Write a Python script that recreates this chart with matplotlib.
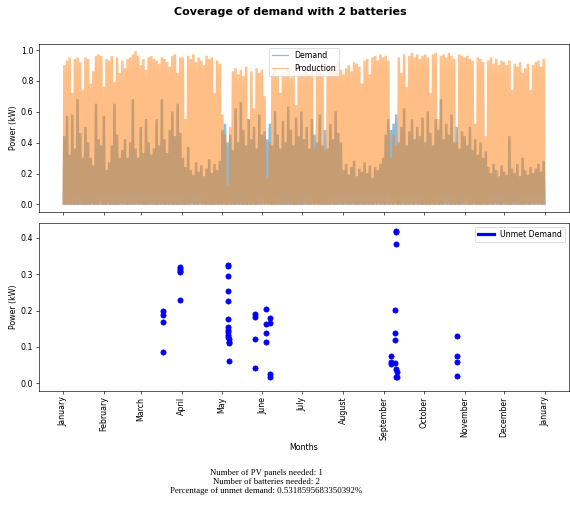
import numpy as np
import pandas as pd
import matplotlib
matplotlib.use("Agg")
from matplotlib import pyplot as plt
import matplotlib.dates as mdates
from matplotlib.lines import Line2D

# peak power of each 2-day block over the year (kW), one row per month
prod_peak = [
    0.90, 0.93, 0.95, 0.72, 0.94, 0.95, 0.92, 0.74, 0.95, 0.94, 0.78, 0.86, 0.96, 0.97, 0.96, 0.76,
    0.94, 0.93, 0.96, 0.79, 0.95, 0.85, 0.93, 0.88, 0.94, 0.95, 0.97, 0.99, 0.96, 0.90,
    0.94, 0.87, 0.95, 0.96, 0.94, 0.93, 0.91, 0.95, 0.94, 0.92, 0.89, 0.96, 0.97, 0.85, 0.95,
    0.95, 0.55, 0.96, 0.94, 0.97, 0.92, 0.95, 0.93, 0.90, 0.96, 0.94, 0.95, 0.72, 0.93, 0.91,
    0.58, 0.45, 0.12, 0.50, 0.86, 0.88, 0.84, 0.87, 0.83, 0.89, 0.55, 0.86, 0.62, 0.88, 0.85, 0.87,
    0.70, 0.17, 0.40, 0.85, 0.88, 0.84, 0.72, 0.86, 0.83, 0.88, 0.82, 0.86, 0.64, 0.87, 0.84,
    0.86, 0.88, 0.84, 0.90, 0.36, 0.87, 0.89, 0.85, 0.35, 0.91, 0.88, 0.86, 0.90, 0.92, 0.87,
    0.84, 0.88, 0.90, 0.86, 0.92, 0.91, 0.89, 0.78, 0.93, 0.94, 0.84, 0.95, 0.96, 0.93, 0.97, 0.95,
    0.96, 0.93, 0.30, 0.45, 0.38, 0.95, 0.85, 0.97, 0.76, 0.96, 0.98, 0.95, 0.97, 0.94, 0.96,
    0.97, 0.95, 0.72, 0.97, 0.98, 0.55, 0.96, 0.97, 0.95, 0.98, 0.96, 0.94, 0.40, 0.97, 0.96,
    0.95, 0.96, 0.94, 0.93, 0.52, 0.95, 0.94, 0.92, 0.44, 0.93, 0.95, 0.91, 0.94, 0.90, 0.93,
    0.92, 0.90, 0.93, 0.74, 0.91, 0.89, 0.92, 0.85, 0.88, 0.91, 0.74, 0.90, 0.92, 0.93, 0.89, 0.94,
]
demand_peak = [
    0.44, 0.57, 0.32, 0.58, 0.36, 0.68, 0.46, 0.30, 0.50, 0.40, 0.30, 0.25, 0.65, 0.42, 0.38, 0.57,
    0.22, 0.27, 0.38, 0.65, 0.45, 0.30, 0.35, 0.42, 0.30, 0.40, 0.68, 0.36, 0.30, 0.50,
    0.33, 0.55, 0.40, 0.32, 0.36, 0.55, 0.38, 0.68, 0.42, 0.33, 0.48, 0.60, 0.44, 0.65, 0.46,
    0.30, 0.24, 0.37, 0.22, 0.19, 0.27, 0.21, 0.25, 0.18, 0.23, 0.29, 0.20, 0.26, 0.22, 0.28,
    0.48, 0.52, 0.40, 0.45, 0.35, 0.62, 0.40, 0.66, 0.48, 0.38, 0.55, 0.42, 0.50, 0.36, 0.58, 0.45,
    0.47, 0.42, 0.52, 0.38, 0.60, 0.45, 0.36, 0.54, 0.40, 0.63, 0.48, 0.38, 0.56, 0.44, 0.60,
    0.42, 0.50, 0.36, 0.55, 0.45, 0.40, 0.58, 0.38, 0.48, 0.36, 0.52, 0.42, 0.60, 0.46, 0.40,
    0.22, 0.26, 0.19, 0.24, 0.28, 0.18, 0.23, 0.21, 0.27, 0.20, 0.25, 0.17, 0.24, 0.22, 0.26, 0.30,
    0.45, 0.55, 0.48, 0.52, 0.58, 0.40, 0.50, 0.62, 0.38, 0.47, 0.55, 0.42, 0.50, 0.44, 0.56,
    0.40, 0.60, 0.46, 0.38, 0.55, 0.48, 0.68, 0.42, 0.52, 0.45, 0.58, 0.40, 0.50, 0.36, 0.47,
    0.44, 0.38, 0.50, 0.35, 0.42, 0.32, 0.40, 0.30, 0.34, 0.24, 0.20, 0.26, 0.22, 0.18, 0.25,
    0.21, 0.19, 0.44, 0.23, 0.20, 0.26, 0.18, 0.30, 0.22, 0.19, 0.24, 0.20, 0.23, 0.26, 0.21, 0.28,
]

# hours where the batteries could not cover the demand
unmet_times = [
    "2023-03-17 08:00", "2023-03-17 09:00", "2023-03-17 10:00", "2023-03-17 11:00",
    "2023-03-30 17:00", "2023-03-30 18:00", "2023-03-30 19:00", "2023-03-30 20:00", "2023-03-30 21:00",
    "2023-05-05 20:00", "2023-05-05 21:00", "2023-05-05 22:00", "2023-05-05 23:00", "2023-05-06 00:00",
    "2023-05-06 01:00", "2023-05-06 02:00", "2023-05-06 03:00", "2023-05-06 04:00", "2023-05-06 05:00",
    "2023-05-06 06:00", "2023-05-06 07:00", "2023-05-06 08:00", "2023-05-06 09:00", "2023-05-06 10:00",
    "2023-05-26 10:00", "2023-05-26 11:00", "2023-05-26 12:00", "2023-05-26 13:00",
    "2023-06-03 12:00", "2023-06-03 13:00", "2023-06-03 14:00", "2023-06-03 15:00",
    "2023-06-06 12:00", "2023-06-06 13:00", "2023-06-06 14:00", "2023-06-06 15:00",
    "2023-09-06 06:00", "2023-09-06 07:00", "2023-09-06 08:00",
    "2023-09-09 14:00", "2023-09-09 15:00", "2023-09-09 16:00", "2023-09-09 17:00", "2023-09-09 18:00",
    "2023-09-10 09:00", "2023-09-10 10:00", "2023-09-10 11:00", "2023-09-10 12:00", "2023-09-10 13:00",
    "2023-09-10 14:00",
    "2023-10-26 09:00", "2023-10-26 10:00", "2023-10-26 11:00", "2023-10-26 12:00",
]
unmet_values = [
    0.200, 0.187, 0.170, 0.086,
    0.321, 0.315, 0.308, 0.306, 0.228,
    0.326, 0.322, 0.294, 0.253, 0.227,
    0.177, 0.154, 0.147, 0.140, 0.133,
    0.127, 0.121, 0.115, 0.110, 0.061,
    0.190, 0.182, 0.121, 0.041,
    0.204, 0.163, 0.138, 0.114,
    0.179, 0.166, 0.026, 0.018,
    0.076, 0.060, 0.052,
    0.202, 0.138, 0.120, 0.057, 0.018,
    0.420, 0.417, 0.383, 0.039, 0.032,
    0.018,
    0.130, 0.076, 0.060, 0.020,
]

n_panels = 1
n_batteries = 2
unmet_pct = 0.5318595683350392

# one spike per day (each 2-day block's peak on both of its days), zero at night
daily_prod = np.repeat(prod_peak, 2)
daily_demand = np.repeat(demand_peak, 2)
n = len(daily_prod)
times = pd.date_range("2023-01-01 00:00", "2023-12-31 23:00", periods=2 * n + 1)
production = np.zeros(2 * n + 1)
production[1::2] = daily_prod
demand = np.zeros(2 * n + 1)
demand[1::2] = daily_demand

fig = plt.figure(figsize=(10, 506 / 57), dpi=57)
ax1 = fig.add_axes([0.0684, 0.581, 0.930, 0.332])
ax2 = fig.add_axes([0.0684, 0.2273, 0.930, 0.332], sharex=ax1)

ax1.plot(times, demand, color="C0", alpha=0.5, label="Demand")
ax1.plot(times, production, color="C1", alpha=0.5, label="Production")
ax1.set_ylabel("Power (kW)")
ax1.legend(loc="upper center")
ax1.tick_params(labelbottom=False)

ax2.plot(pd.to_datetime(unmet_times), unmet_values, "o", color="blue", markersize=6.5)
ax2.set_ylim(-0.021, 0.441)
ax2.set_ylabel("Power (kW)")
ax2.set_xlabel("Months")
ax2.xaxis.set_major_locator(mdates.MonthLocator())
ax2.xaxis.set_major_formatter(mdates.DateFormatter("%B"))
plt.setp(ax2.get_xticklabels(), rotation=90)
ax2.legend(handles=[Line2D([0], [0], color="blue", lw=4)], labels=["Unmet Demand"], loc="upper right")

fig.suptitle(f"Coverage of demand with {n_batteries} batteries", fontweight="bold", fontsize=14,
             x=0.509, y=0.976, va="center")
fig.text(0.467, 0.047,
         f"Number of PV panels needed: {n_panels}\n"
         f"Number of batteries needed: {n_batteries}\n"
         f"Percentage of unmet demand: {unmet_pct}%",
         ha="center", va="center", fontsize=11, family="Liberation Serif")

fig.savefig("out.png", dpi=57)
